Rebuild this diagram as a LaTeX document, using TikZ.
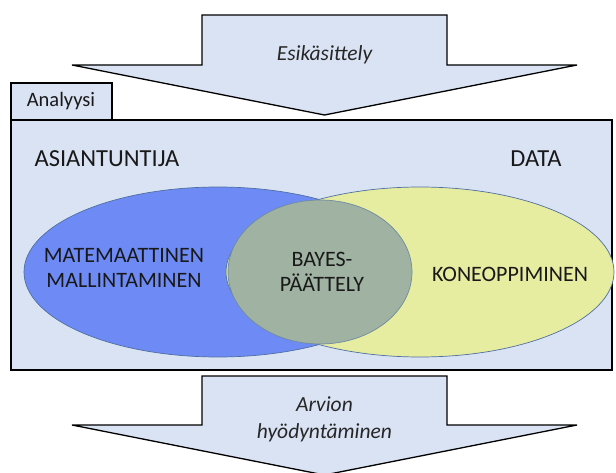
\documentclass[tikz,border=0pt]{standalone}
\usepackage{fontspec}
\setmainfont{Carlito}

\definecolor{panelblue}{HTML}{DAE3F3}
\definecolor{expertblue}{HTML}{6E8BF5}
\definecolor{datayellow}{HTML}{E6ECA0}
\definecolor{bayesgray}{HTML}{A0B2A2}
\definecolor{rimblue}{HTML}{4F6FA0}

\begin{document}
\begin{tikzpicture}[x=1pt, y=-1pt]
    % ===== PARAMETERS =====
    \pgfmathsetmacro{\W}{616}   % picture width
    \pgfmathsetmacro{\H}{473}   % picture height
    \pgfmathsetmacro{\Sl}{202}  % arrow stem, left
    \pgfmathsetmacro{\Sr}{447}  % arrow stem, right
    \pgfmathsetmacro{\Hl}{72}   % arrow head, left
    \pgfmathsetmacro{\Hr}{577}  % arrow head, right
    \pgfmathsetmacro{\Mx}{(\Sl+\Sr)/2}
    \pgfmathsetmacro{\Vy}{272}  % centre line of the ellipses

    \useasboundingbox (0,0) rectangle (\W,\H);

    % ===== STYLES =====
    \tikzset{
        flowarrow/.style={fill=panelblue, draw=black, line width=1.3pt, line join=miter},
        panel/.style={fill=panelblue, draw=black, line width=1.6pt},
        venn/.style={draw=rimblue, line width=0.7pt},
        headtext/.style={font=\fontsize{24.5}{28}\selectfont, text=black!90},
        venntext/.style={font=\fontsize{22}{25.5}\selectfont, align=center, text=black!90},
        flowtext/.style={font=\fontsize{21.5}{27}\selectfont\itshape, align=center, text=black!85}
    }

    % ===== ANALYSIS BOX =====
    \draw[panel] (11,120) rectangle (612,370);
    \draw[panel] (11,83) rectangle (112,120);
    \node[font=\fontsize{20.5}{24}\selectfont, text=black!90] (tab) at (61,101) {Analyysi};

    % ===== ARROWS =====
    % Pre-processing (top)
    \draw[flowarrow] (\Sl,15) -- (\Sr,15) -- (\Sr,65) -- (\Hr,65) -- (\Mx,115)
        -- (\Hl,65) -- (\Sl,65) -- cycle;
    \node[flowtext] (pre) at (\Mx,55) {Esikäsittely};

    % Use of the estimate (bottom, tip cut by the page)
    \draw[flowarrow] (\Sl,376) -- (\Sr,376) -- (\Sr,425) -- (\Hr,425) -- (\Mx,475)
        -- (\Hl,425) -- (\Sl,425) -- cycle;
    \node[flowtext] (use) at (\Mx,419) {Arvion\\hyödyntäminen};

    % ===== VENN =====
    \filldraw[venn, fill=expertblue] (218,\Vy) ellipse [x radius=194pt, y radius=85pt];
    \filldraw[venn, fill=datayellow] (420,\Vy) ellipse [x radius=194pt, y radius=85pt];
    \filldraw[venn, draw=rimblue!60!bayesgray, fill=bayesgray] (320,\Vy) ellipse [x radius=92pt, y radius=72pt];

    % ===== TEXT =====
    \node[headtext] (expert) at (107,159) {ASIANTUNTIJA};
    \node[headtext] (data) at (536,159) {DATA};
    \node[venntext] (math) at (124,268) {MATEMAATTINEN\\MALLINTAMINEN};
    \node[venntext] (bayes) at (322,272) {BAYES-\\PÄÄTTELY};
    \node[venntext] (ml) at (510,274) {KONEOPPIMINEN};
\end{tikzpicture}
\end{document}
